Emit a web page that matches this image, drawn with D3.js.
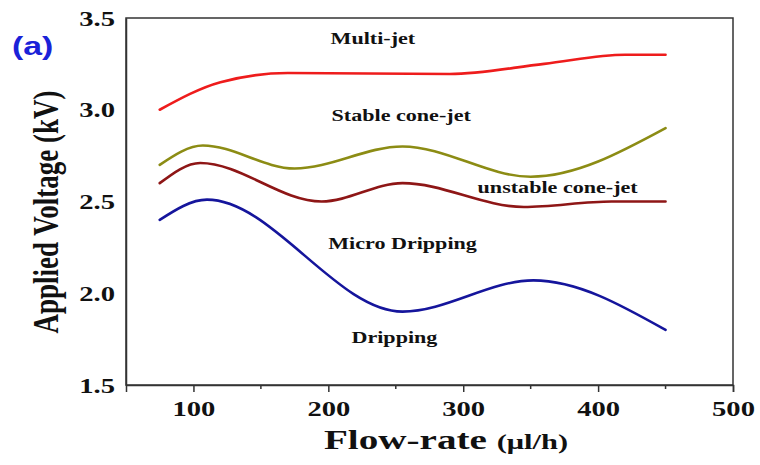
<!DOCTYPE html>
<html>
<head>
<meta charset="utf-8">
<script src="https://cdn.jsdelivr.net/npm/d3@7"></script>
<style>
  body { margin: 0; background: #fff; }
  text { font-family: "Liberation Serif", "Times New Roman", serif; font-weight: bold; fill: #111; }
</style>
</head>
<body>
<div id="chart-area"></div>
<script>
// data (turning points of each boundary curve)
const FLOW = {
  multi: [75, 120, 170, 290, 360, 420, 450],
  olive: [75, 107, 175, 255, 350, 450],
  unstable: [75, 105, 195, 255, 345, 410, 450],
  micro: [75, 110, 255, 352, 450],
};
const multiJet = [3.0, 3.15, 3.2, 3.195, 3.25, 3.3, 3.3];
const stableCone = [2.7, 2.805, 2.68, 2.8, 2.635, 2.9];
const unstableCone = [2.6, 2.71, 2.5, 2.6, 2.47, 2.5, 2.5];
const microDrip = [2.4, 2.51, 1.9, 2.07, 1.8];

const X_TICKS = [100, 200, 300, 400, 500];
const X_MINOR = [150, 250, 350, 450];
const Y_TICKS = [1.5, 2.0, 2.5, 3.0, 3.5];

const REGIONS = [
  { label: 'Multi-jet', x: 233, y: 3.36 },
  { label: 'Stable cone-jet', x: 254, y: 2.94 },
  { label: 'unstable cone-jet', x: 370, y: 2.546 },
  { label: 'Micro Dripping', x: 255, y: 2.24 },
  { label: 'Dripping', x: 249, y: 1.73 },
];

const SERIES = [
  { id: 'multi', xs: FLOW.multi, ys: multiJet, stroke: '#ee1c1c' },
  { id: 'olive', xs: FLOW.olive, ys: stableCone, stroke: '#8c8c14' },
  { id: 'unstable', xs: FLOW.unstable, ys: unstableCone, stroke: '#8e1616' },
  { id: 'micro', xs: FLOW.micro, ys: microDrip, stroke: '#15159c' },
];

// the source picture is stretched sideways, so text is too
const SX = 1.3;

const W = 760, H = 465;
const margin = { top: 18, right: 27, bottom: 80, left: 126 };
const width = W - margin.left - margin.right;
const height = H - margin.top - margin.bottom;

const x = d3.scaleLinear().domain([50, 500]).range([0, width]);
const y = d3.scaleLinear().domain([1.5, 3.5]).range([height, 0]);

const svg = d3.select('#chart-area')
  .append('svg')
  .attr('width', W)
  .attr('height', H);

const chart = svg.append('g')
  .attr('transform', `translate(${margin.left},${margin.top})`);

// frame
chart.append('rect')
  .attr('x', 0).attr('y', 0)
  .attr('width', width).attr('height', height)
  .attr('fill', 'none')
  .attr('stroke', '#333')
  .attr('stroke-width', 1.5);

const stretchText = (sel) => sel.each(function () {
  const t = d3.select(this);
  const tx = +t.attr('x') || 0, ty = +t.attr('y') || 0;
  t.attr('x', null).attr('y', null)
    .attr('transform', `translate(${tx},${ty}) scale(${SX},1)`);
});

// x axis
const xAxis = chart.append('g')
  .attr('transform', `translate(0,${height})`)
  .call(d3.axisBottom(x).tickValues(X_TICKS).tickSize(7).tickPadding(8).tickFormat(d3.format('d')));
xAxis.select('.domain').attr('stroke', '#333').attr('stroke-width', 1.5);
xAxis.selectAll('.tick line').attr('stroke', '#333').attr('stroke-width', 1.5);
xAxis.selectAll('.tick text')
  .attr('font-size', 22)
  .attr('dy', '0.71em')
  .attr('fill', '#111')
  .attr('font-family', '"Liberation Serif", serif')
  .call(stretchText);

chart.append('g')
  .selectAll('line')
  .data(X_MINOR)
  .join('line')
  .attr('x1', (d) => x(d)).attr('x2', (d) => x(d))
  .attr('y1', height).attr('y2', height + 4)
  .attr('stroke', '#333').attr('stroke-width', 1.5);

// y axis
const yAxis = chart.append('g')
  .call(d3.axisLeft(y).tickValues(Y_TICKS).tickSize(0).tickPadding(11).tickFormat(d3.format('.1f')));
yAxis.select('.domain').attr('stroke', '#333').attr('stroke-width', 1.5);
yAxis.selectAll('.tick text')
  .attr('font-size', 22)
  .attr('fill', '#111')
  .attr('font-family', '"Liberation Serif", serif')
  .call(stretchText);

// curves
const line = d3.line()
  .x((d) => x(d[0]))
  .y((d) => y(d[1]))
  .curve(d3.curveMonotoneX);

chart.append('g')
  .selectAll('path')
  .data(SERIES)
  .join('path')
  .attr('fill', 'none')
  .attr('stroke', (d) => d.stroke)
  .attr('stroke-width', 2.6)
  .attr('stroke-linecap', 'round')
  .attr('d', (d) => line(d.xs.map((v, i) => [v, d.ys[i]])));

// region labels
chart.append('g')
  .selectAll('text')
  .data(REGIONS)
  .join('text')
  .attr('x', (d) => x(d.x))
  .attr('y', (d) => y(d.y))
  .attr('text-anchor', 'middle')
  .attr('font-size', 17)
  .text((d) => d.label)
  .call(stretchText);

// axis titles
svg.append('text')
  .attr('transform', 'translate(446,449) scale(1.45,1)')
  .attr('text-anchor', 'middle')
  .attr('font-size', 27)
  .call((t) => {
    t.append('tspan').text('Flow-rate ');
    t.append('tspan').attr('font-size', 21).text('(μl/h)');
  });

svg.append('text')
  .attr('transform', `translate(58,212) scale(${SX},1) rotate(-90)`)
  .attr('text-anchor', 'middle')
  .attr('font-size', 27)
  .text('Applied Voltage (kV)');

// panel tag
svg.append('text')
  .attr('transform', `translate(12,55) scale(${SX},1)`)
  .attr('font-size', 26)
  .style('font-family', '"Liberation Sans", Arial, sans-serif')
  .style('fill', '#1a22d8')
  .text('(a)');
</script>
</body>
</html>
